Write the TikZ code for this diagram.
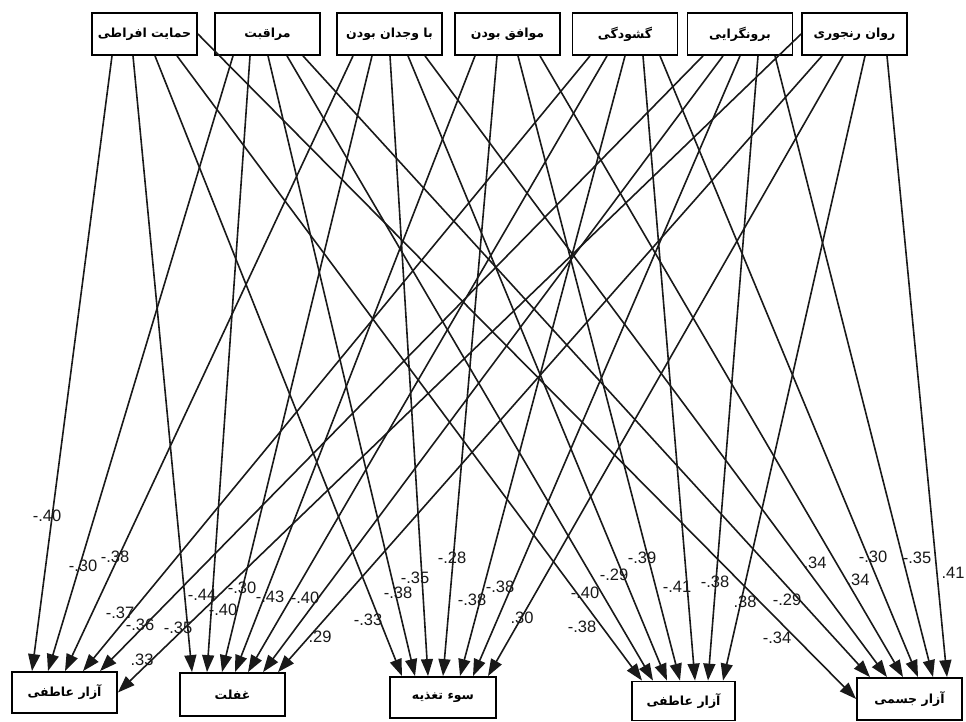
\documentclass[tikz,border=0pt]{standalone}
\usepackage{fontspec}
\setmainfont{Liberation Sans}
\newfontfamily\arabicfont[Script=Arabic]{DejaVu Sans}
\TeXXeTstate=1
\usetikzlibrary{arrows.meta}
\begin{document}
\begin{tikzpicture}[x=1pt,y=-1pt,
  box/.style={draw=black, line width=1.8pt, fill=white, inner sep=0pt,
    minimum width=105pt, minimum height=42pt,
    font=\arabicfont\bfseries\fontsize{12.5}{15}\selectfont},
  arr/.style={line width=1.6pt, draw=black!90, -{Triangle[length=17pt,width=12pt]}},
  lab/.style={font=\fontsize{16.5}{18}\selectfont, text=black!90, inner sep=0pt}]
\useasboundingbox (0,0) rectangle (966,722);
\fill[white] (0,0) rectangle (966,722);
% top boxes
\node[box] (t1) at (144.5,34) {\beginR حمایت افراطی\endR};
\node[box] (t2) at (267.5,34) {\beginR مراقبت\endR};
\node[box] (t3) at (389.5,34) {\beginR با وجدان بودن\endR};
\node[box] (t4) at (507.5,34) {\beginR موافق بودن\endR};
\node[box] (t5) at (625,34) {\beginR گشودگی\endR};
\node[box] (t6) at (740,34) {\beginR برونگرایی\endR};
\node[box] (t7) at (854.5,34) {\beginR روان رنجوری\endR};
% bottom boxes
\node[box, minimum height=41pt] (bA) at (64.5,692.5) {\beginR آزار عاطفی\endR};
\node[box, minimum height=43pt] (bB) at (232.5,694.5) {\beginR غفلت\endR};
\node[box, minimum width=106pt, minimum height=41pt] (bC) at (443,697.5) {\beginR سوء تغذیه\endR};
\node[box, minimum width=103pt, minimum height=39pt] (bD) at (683.5,701) {\beginR آزار عاطفی\endR};
\node[box, minimum height=42pt] (bE) at (909.5,699) {\beginR آزار جسمی\endR};
% edges from t1
\draw[arr] (112,0 |- t1.south) -- (32,0 |- bA.north);
\draw[arr] (133,0 |- t1.south) -- (192,0 |- bB.north);
\draw[arr] (155,0 |- t1.south) -- (402,0 |- bC.north);
\draw[arr] (177,0 |- t1.south) -- (642,0 |- bD.north);
\draw[arr] (t1.east) -- (bE.west);
% edges from t2
\draw[arr] (233,0 |- t2.south) -- (48,0 |- bA.north);
\draw[arr] (250,0 |- t2.south) -- (207,0 |- bB.north);
\draw[arr] (268,0 |- t2.south) -- (415,0 |- bC.north);
\draw[arr] (287,0 |- t2.south) -- (653,0 |- bD.north);
\draw[arr] (303,0 |- t2.south) -- (870,0 |- bE.north);
% edges from t3
\draw[arr] (353,0 |- t3.south) -- (65,0 |- bA.north);
\draw[arr] (372,0 |- t3.south) -- (222,0 |- bB.north);
\draw[arr] (390,0 |- t3.south) -- (428,0 |- bC.north);
\draw[arr] (408,0 |- t3.south) -- (667,0 |- bD.north);
\draw[arr] (425,0 |- t3.south) -- (887,0 |- bE.north);
% edges from t4
\draw[arr] (475,0 |- t4.south) -- (235,0 |- bB.north);
\draw[arr] (497,0 |- t4.south) -- (443,0 |- bC.north);
\draw[arr] (518,0 |- t4.south) -- (680,0 |- bD.north);
\draw[arr] (540,0 |- t4.south) -- (903,0 |- bE.north);
% edges from t5
\draw[arr] (590,0 |- t5.south) -- (83,0 |- bA.north);
\draw[arr] (607,0 |- t5.south) -- (248,0 |- bB.north);
\draw[arr] (625,0 |- t5.south) -- (460,0 |- bC.north);
\draw[arr] (643,0 |- t5.south) -- (695,0 |- bD.north);
\draw[arr] (660,0 |- t5.south) -- (918,0 |- bE.north);
% edges from t6
\draw[arr] (703,0 |- t6.south) -- (100,0 |- bA.north);
\draw[arr] (723,0 |- t6.south) -- (263,0 |- bB.north);
\draw[arr] (740,0 |- t6.south) -- (473,0 |- bC.north);
\draw[arr] (758,0 |- t6.south) -- (708,0 |- bD.north);
\draw[arr] (775,0 |- t6.south) -- (933,0 |- bE.north);
% edges from t7
\draw[arr] (t7.west) -- (bA.east);
\draw[arr] (822,0 |- t7.south) -- (278,0 |- bB.north);
\draw[arr] (843,0 |- t7.south) -- (488,0 |- bC.north);
\draw[arr] (865,0 |- t7.south) -- (723,0 |- bD.north);
\draw[arr] (887,0 |- t7.south) -- (947,0 |- bE.north);
% labels A
\node[lab] (l1) at (47,516) {-.40};
\node[lab] (l2) at (83,566) {-.30};
\node[lab] (l3) at (115,557) {-.38};
\node[lab] (l4) at (120,613) {-.37};
\node[lab] (l5) at (140,625) {-.36};
\node[lab] (l6) at (142,660) {.33};
% labels B
\node[lab] (l7) at (178,628) {-.35};
\node[lab] (l8) at (202,595) {-.44};
\node[lab] (l9) at (223,610) {-.40};
\node[lab] (l10) at (242,588) {-.30};
\node[lab] (l11) at (270,597) {-.43};
\node[lab] (l12) at (305,598) {-.40};
\node[lab] (l13) at (320,637) {.29};
% labels C
\node[lab] (l14) at (368,620) {-.33};
\node[lab] (l15) at (398,593) {-.38};
\node[lab] (l16) at (415,578) {-.35};
\node[lab] (l17) at (452,558) {-.28};
\node[lab] (l18) at (472,600) {-.38};
\node[lab] (l19) at (500,587) {-.38};
\node[lab] (l20) at (522,618) {.30};
% labels D
\node[lab] (l21) at (585,593) {-.40};
\node[lab] (l22) at (582,627) {-.38};
\node[lab] (l23) at (614,575) {-.29};
\node[lab] (l24) at (642,558) {-.39};
\node[lab] (l25) at (677,587) {-.41};
\node[lab] (l26) at (715,582) {-.38};
\node[lab] (l27) at (745,602) {.38};
% labels E
\node[lab] (l28) at (787,600) {-.29};
\node[lab] (l29) at (777,638) {-.34};
\node[lab] (l30) at (815,563) {.34};
\node[lab] (l31) at (858,580) {.34};
\node[lab] (l32) at (873,557) {-.30};
\node[lab] (l33) at (917,558) {-.35};
\node[lab] (l34) at (953,573) {.41};
\end{tikzpicture}
\end{document}
